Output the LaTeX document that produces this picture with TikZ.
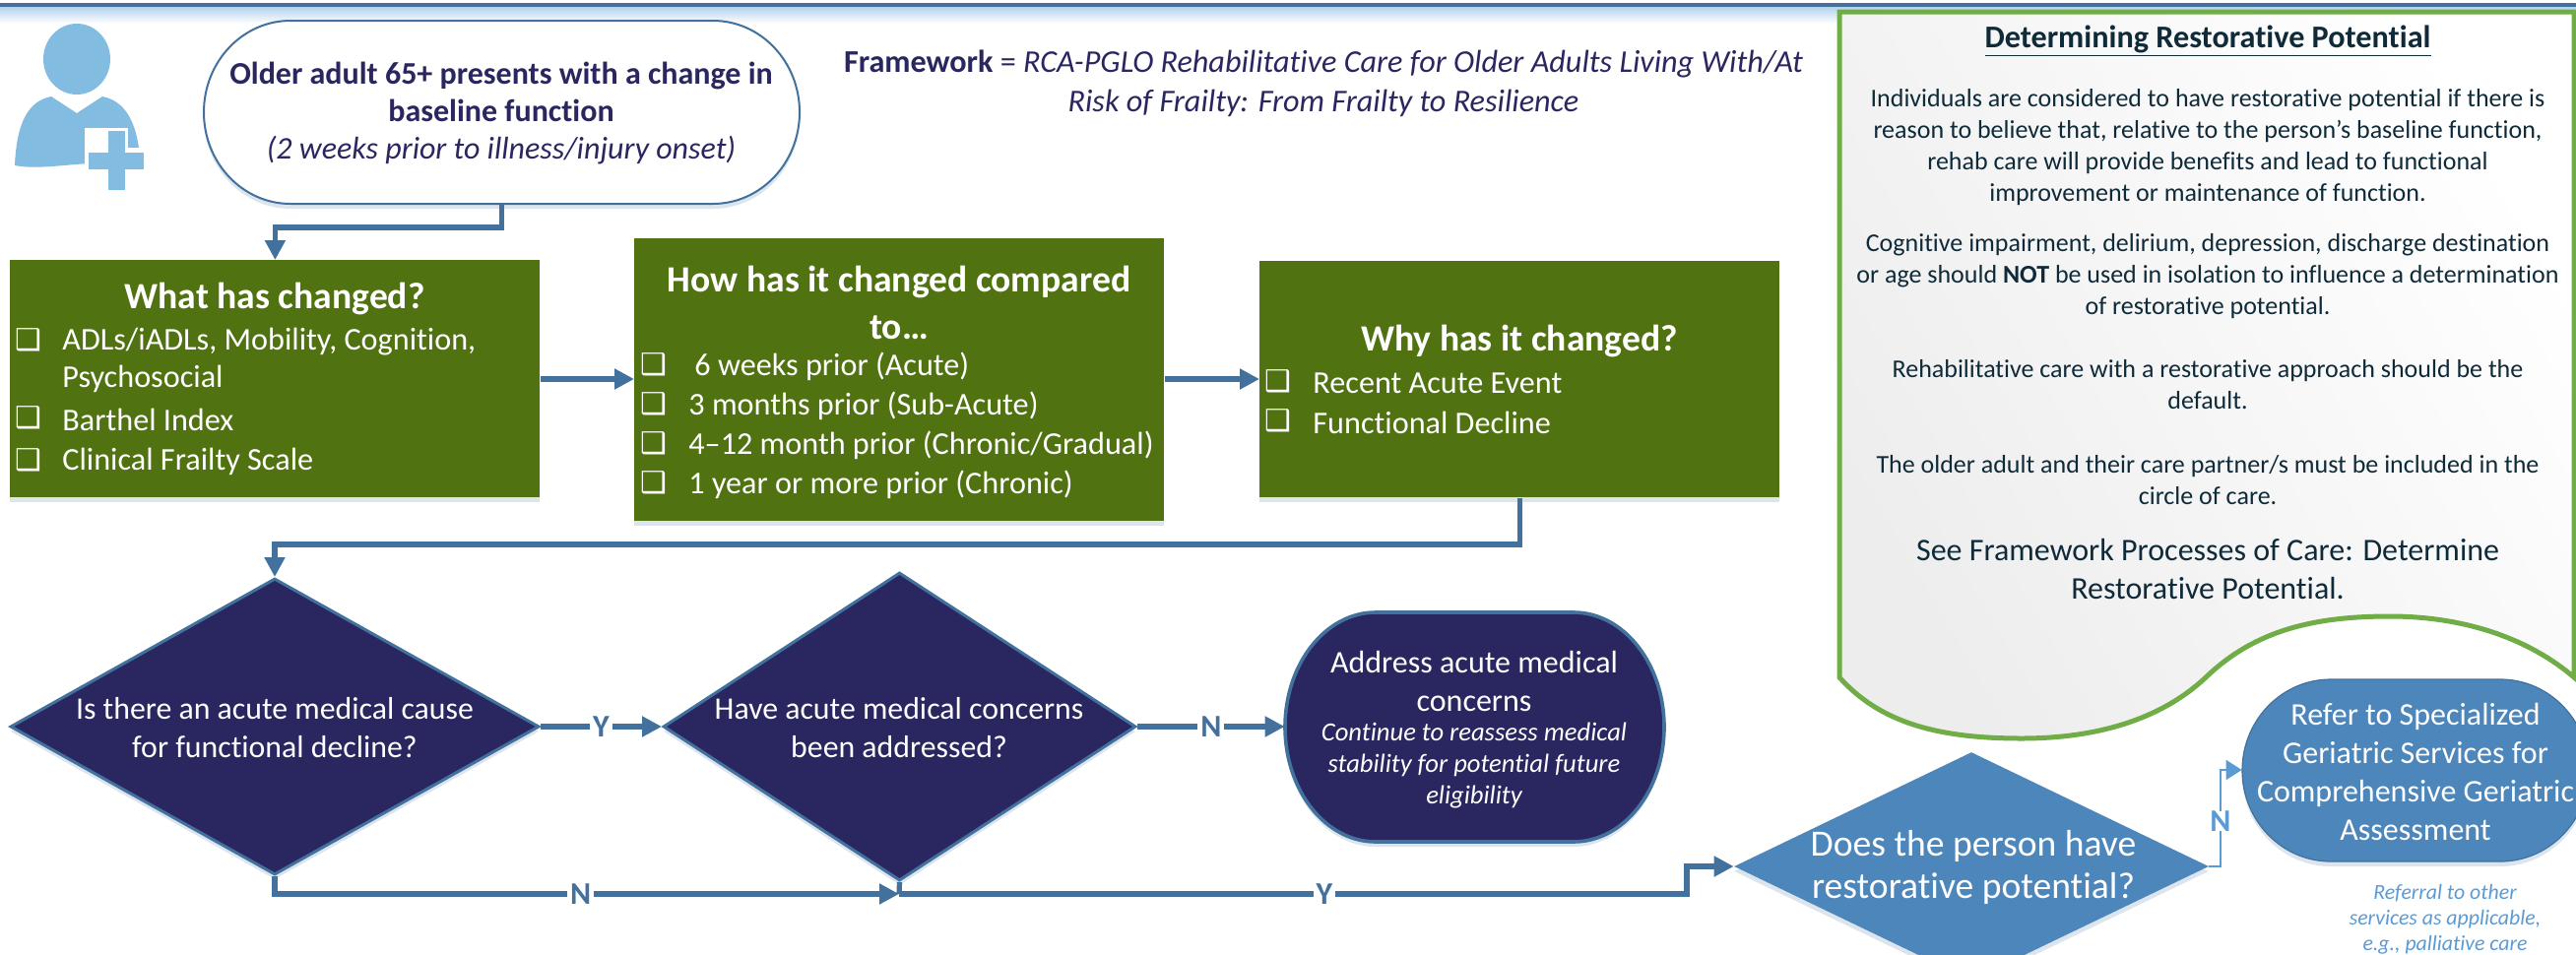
\documentclass[tikz,border=0pt]{standalone}
\usepackage{fontspec}
\setmainfont{Carlito}[Ligatures=NoCommon]
\newfontfamily\symfont{DejaVu Sans}
\usetikzlibrary{shapes.geometric,arrows.meta,shadows,calc}
\definecolor{navy}{HTML}{2A2660}
\definecolor{grn}{HTML}{507211}
\definecolor{lineblue}{HTML}{41719C}
\definecolor{midblue}{HTML}{4D86BA}
\definecolor{lightb}{HTML}{5B9BD5}
\definecolor{icon}{HTML}{82BCE0}
\definecolor{callg}{HTML}{70AD47}
\definecolor{ink}{HTML}{0F2A38}
\newcommand{\fs}[2]{\fontsize{#1}{#2}\selectfont}
\newcommand{\cb}{{\symfont\fontsize{15}{15}\selectfont ❑}}
\newcommand{\pillpath}[6]{%
  \pgfmathsetmacro\pxa{#2+#6}\pgfmathsetmacro\pxb{#4-#6}%
  \pgfmathsetmacro\pym{(#3+#5)/2}\pgfmathsetmacro\pry{(#5-#3)/2}%
  \pgfmathsetmacro\pkx{.5523*#6}\pgfmathsetmacro\pky{.5523*\pry}%
  \path[#1] (#2,\pym) .. controls +(0,-\pky) and +(-\pkx,0) .. (\pxa,#3) -- (\pxb,#3)
    .. controls +(\pkx,0) and +(0,-\pky) .. (#4,\pym)
    .. controls +(0,\pky) and +(\pkx,0) .. (\pxb,#5) -- (\pxa,#5)
    .. controls +(-\pkx,0) and +(0,\pky) .. (#2,\pym) -- cycle;}
\tikzset{
  x=0.5pt,y=-0.5pt,
  softshadow/.style={drop shadow={shadow xshift=0pt,shadow yshift=-2.5pt,opacity=.18,fill=lineblue}},
  box/.style={draw=none,fill=grn,inner sep=0,anchor=north west,softshadow},
  txt/.style={inner sep=0,align=center,anchor=center},
  wtxt/.style={txt,text=white},
  item/.style={inner sep=0,anchor=west,text=white,font=\fs{16.1}{19}},
  chk/.style={inner sep=0,anchor=center,text=white},
  dia/.style={diamond,aspect=1.8,inner sep=0,fill=navy,draw=lineblue,line width=1.5pt,softshadow},
  conn/.style={draw=lineblue,line width=2.6pt,-{Triangle[length=10pt,width=10pt]}},
  plain/.style={draw=lineblue,line width=2.6pt},
  lab/.style={fill=white,inner xsep=1.5pt,inner ysep=0pt,text=lineblue,font=\bfseries\fs{16}{17}},
}
\begin{document}
\begin{tikzpicture}
\useasboundingbox (0,0) rectangle (2616,969);
\begin{scope}
\clip (0,0) rectangle (2616,969);
\fill[white] (0,0) rectangle (2616,969);
% top rule
\shade[top color=lightb!45,bottom color=white] (0,7) rectangle (2616,24);
\fill[lineblue] (0,3) rectangle (2616,7);

% icon
\fill[icon] (78,60) ellipse [x radius=34,y radius=36];
\fill[icon] (15,168) .. controls (17,125) and (28,103) .. (52,98) -- (78,115) -- (104,98) .. controls (128,103) and (141,125) .. (143,172) -- (90,166) .. controls (60,168) and (35,172) .. (15,168) -- cycle;
\fill[white] (86,130) rectangle (130,158);
\fill[white] (86,150) rectangle (150,176);
\fill[icon] (110,133) rectangle (127,193);
\fill[icon] (90,155) rectangle (146,172);

% start pill
\node[inner sep=0,minimum width=302.5pt,minimum height=93pt] (startbox) at (509.5,114) {};
\pillpath{draw=lineblue,line width=1pt,fill=white,softshadow}{207}{21}{812}{207}{88}
\node[txt,text=navy,font=\fs{16}{19}] (starttxt) at (509,115) {\textbf{Older adult 65+ presents with a change in}\\\textbf{baseline function}\\\textit{(2 weeks prior to illness/injury onset)}};

% framework
\node[txt,text=navy,font=\fs{16.1}{20}] (frame) at (1344,85) {\textbf{Framework} = \textit{RCA-PGLO Rehabilitative Care for Older Adults Living With/At}\\\textit{Risk of Frailty: From Frailty to Resilience}};

% green boxes
\node[box,minimum width=269pt,minimum height=120.5pt] (what) at (10,264) {};
\node[box,minimum width=269pt,minimum height=143.5pt] (how) at (644,242) {};
\node[box,minimum width=264pt,minimum height=120pt] (why) at (1279,265) {};

\node[wtxt,font=\bfseries\fs{18.8}{20}] (t1) at (279,303) {What has changed?};
\node[chk] (c1a) at (29,345) {\cb};
\node[item] (i1a) at (63,347) {ADLs/iADLs, Mobility, Cognition,};
\node[item] (i1b) at (63,385) {Psychosocial};
\node[chk] (c1b) at (29,424) {\cb};
\node[item] (i1c) at (63,426) {Barthel Index};
\node[chk] (c1c) at (29,467) {\cb};
\node[item] (i1d) at (63,469) {Clinical Frailty Scale};

\node[wtxt,font=\bfseries\fs{18.8}{24}] (t2) at (913,307) {How has it changed compared\\to…};
\node[chk] (c2a) at (664,370) {\cb};
\node[item] (i2a) at (705,372) {6 weeks prior (Acute)};
\node[chk] (c2b) at (664,410) {\cb};
\node[item] (i2b) at (699,412) {3 months prior (Sub-Acute)};
\node[chk] (c2c) at (664,450) {\cb};
\node[item] (i2c) at (699,452) {4–12 month prior (Chronic/Gradual)};
\node[chk] (c2d) at (664,490) {\cb};
\node[item] (i2d) at (699,492) {1 year or more prior (Chronic)};

\node[wtxt,font=\bfseries\fs{18.8}{20}] (t3) at (1543,346) {Why has it changed?};
\node[chk] (c3a) at (1298,387) {\cb};
\node[item] (i3a) at (1333,389) {Recent Acute Event};
\node[chk] (c3b) at (1298,427) {\cb};
\node[item] (i3b) at (1333,429) {Functional Decline};

% diamonds
\node[dia,minimum width=268.5pt,minimum height=150.5pt] (d1) at (279,738) {};
\node[dia,minimum width=240pt,minimum height=156.5pt] (d2) at (913.5,738) {};
\node[wtxt,font=\fs{15.9}{19.5}] (d1t) at (279,739) {Is there an acute medical cause\\for functional decline?};
\node[wtxt,font=\fs{15.9}{19.5}] (d2t) at (913,739) {Have acute medical concerns\\been addressed?};

% address pill
\node[inner sep=0,minimum width=192.5pt,minimum height=116.5pt] (addr) at (1497.5,738) {};
\pillpath{draw=lineblue,line width=1.8pt,fill=navy,softshadow}{1305}{622}{1690}{855}{92}
\node[wtxt,font=\fs{16}{19.5}] (addrt) at (1497,691.5) {Address acute medical\\concerns};
\node[wtxt,font=\itshape\fs{13.3}{16}] (addri) at (1497,778) {Continue to reassess medical\\stability for potential future\\eligibility};

% D3
\node[diamond,aspect=2.08,inner sep=0,fill=midblue,softshadow,minimum width=241pt,minimum height=116pt] (d3) at (2002,880) {};
\node[wtxt,font=\fs{18.8}{21.5}] (d3t) at (2004,881) {Does the person have\\restorative potential?};

% refer pill
\node[inner sep=0,minimum width=176pt,minimum height=92.5pt] (refer) at (2453,782) {};
\pillpath{draw=lineblue,line width=.6pt,fill=midblue,softshadow}{2277}{690}{2629}{875}{90}
\node[wtxt,font=\fs{16}{19.4}] (refert) at (2453,784) {Refer to Specialized\\Geriatric Services for\\Comprehensive Geriatric\\Assessment};
\node[txt,text=lightb,font=\itshape\fs{10.9}{13}] (referral) at (2483,934) {Referral to other\\services as applicable,\\e.g., palliative care};

% callout
\shade[left color=black!7,right color=white,shading angle=120] (1868,12) -- (2616,12) -- (2616,690) .. controls (2570,650) and (2505,626) .. (2427,626) .. controls (2350,626) and (2290,640) .. (2240,688) .. controls (2190,735) and (2120,750) .. (2053,750) .. controls (1970,750) and (1910,735) .. (1868,688) -- cycle;
\draw[callg,line width=2.5pt] (2616,12) -- (1868,12) -- (1868,688) .. controls (1910,735) and (1970,750) .. (2053,750) .. controls (2120,750) and (2190,735) .. (2240,688) .. controls (2290,640) and (2350,626) .. (2427,626) .. controls (2505,626) and (2570,650) .. (2614,688) -- (2614,12);
\node[txt,text=ink,font=\bfseries\fs{16.1}{18}] (ct) at (2242,42) {\underline{Determining Restorative Potential}};
\node[txt,text=ink,font=\fs{13}{16}] (cp1) at (2242,150) {Individuals are considered to have restorative potential if there is\\reason to believe that, relative to the person’s baseline function,\\rehab care will provide benefits and lead to functional\\improvement or maintenance of function.};
\node[txt,text=ink,font=\fs{13}{16}] (cp2) at (2242,281) {Cognitive impairment, delirium, depression, discharge destination\\or age should \textbf{NOT} be used in isolation to influence a determination\\of restorative potential.};
\node[txt,text=ink,font=\fs{13}{16}] (cp3) at (2242,391) {Rehabilitative care with a restorative approach should be the\\default.};
\node[txt,text=ink,font=\fs{13}{16}] (cp4) at (2242,488) {The older adult and their care partner/s must be included in the\\circle of care.};
\node[txt,text=ink,font=\fs{16}{19.5}] (cp5) at (2242,578) {See Framework Processes of Care: Determine\\Restorative Potential.};

% connectors
\coordinate (sb) at (startbox.south);
\coordinate (sm) at (0,231);
\draw[conn] (sb) -- (sb|-sm) -- (what.north|-sm) -- (what.north);
\coordinate (w1) at (what.east|-0,385);
\coordinate (w2) at (how.west|-0,385);
\draw[conn] (w1) -- (w2);
\coordinate (w3) at (how.east|-0,385);
\coordinate (w4) at (why.west|-0,385);
\draw[conn] (w3) -- (w4);
\coordinate (el) at (0,553);
\draw[conn] (why.south) |- (el-|d1.north) -- (d1.north);
\coordinate (jn) at (913,908);
\draw[conn] (d1.east) -- (d2.west) node[lab,pos=.5] (ly) {Y};
\draw[conn] (d1.south) |- (jn) node[lab,pos=.745] (ln1) {N};
\draw[plain] (d2.south) -- (jn);
\coordinate (k1) at (1713,908);
\coordinate (k2) at (1713,880);
\draw[conn] (jn) -- (k1) node[lab,pos=.54] (ly2) {Y} -- (k2) -- (d3.west);
\draw[conn] (d2.east) -- (addr.west|-d2.east) node[lab,pos=.5] (ln2) {N};
\coordinate (k3) at (2255,880);
\coordinate (k4) at (2255,782);
\draw[draw=lightb,line width=1pt,-{Triangle[length=8pt,width=10pt]}] (d3.east) -- (k3) -- (k4) node[lab,text=lightb,pos=.47] (ln3) {N} -- (refer.west);
\end{scope}
\end{tikzpicture}
\end{document}
